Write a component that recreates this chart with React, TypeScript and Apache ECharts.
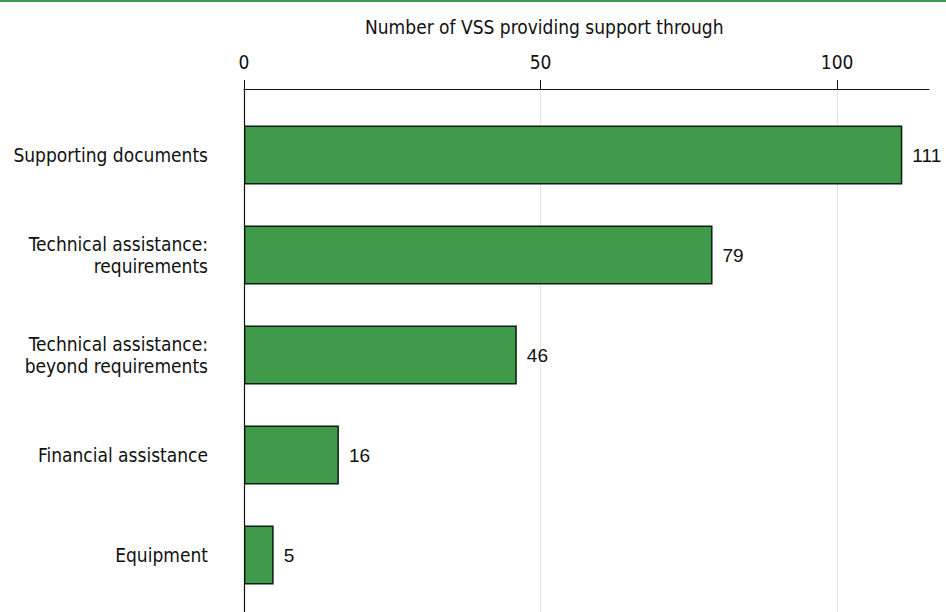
import React, { useEffect, useRef } from "react";
import * as echarts from "echarts";

const categories = [
  "Supporting documents",
  "Technical assistance:\nrequirements",
  "Technical assistance:\nbeyond requirements",
  "Financial assistance",
  "Equipment",
];
const values = [111, 79, 46, 16, 5];
const axisTitle = "Number of VSS providing support through";

const NARROW = '"Liberation Sans Narrow", "DejaVu Sans Condensed", sans-serif';
const REG = "Liberation Sans";

export default function App() {
  const ref = useRef<HTMLDivElement>(null);
  useEffect(() => {
    document.body.style.margin = "0";
    const chart = echarts.init(ref.current!, null, { renderer: "svg" });
    chart.setOption({
      animation: false,
      backgroundColor: "#ffffff",
      title: {
        text: axisTitle,
        left: 360,
        top: 12,
        textStyle: { fontFamily: NARROW, fontSize: 19, fontWeight: "normal", color: "#111" },
      },
      graphic: [
        { type: "rect", left: 0, top: 0, shape: { width: 946, height: 2 }, style: { fill: "#3f9a4a" } },
      ],
      grid: [
        { left: 244, right: 17, top: 105, height: 500 },
        { left: 244, right: 17, top: 89, bottom: 0 },
      ],
      xAxis: [
        {
          type: "value",
          gridIndex: 0,
          min: 0,
          max: 115.5,
          interval: 50,
          show: false,
          splitLine: { show: false },
        },
        {
          type: "value",
          gridIndex: 1,
          position: "top",
          min: 0,
          max: 115.5,
          interval: 50,
          axisLine: { show: true, onZero: false, lineStyle: { color: "#111", width: 1.2 } },
          axisTick: { show: true, inside: false, length: 9, lineStyle: { color: "#111" } },
          axisLabel: {
            margin: 18,
            showMaxLabel: false,
            fontFamily: NARROW,
            fontSize: 19,
            color: "#111",
          },
          splitLine: { show: true, showMinLine: false, showMaxLine: false, lineStyle: { color: "#e4e4e4", width: 1 } },
        },
      ],
      yAxis: [
        {
          type: "category",
          gridIndex: 0,
          inverse: true,
          data: categories,
          axisLine: { show: false },
          axisTick: { show: false },
          axisLabel: {
            margin: 36,
            align: "right",
            fontFamily: NARROW,
            fontSize: 19,
            lineHeight: 22,
            color: "#111",
          },
        },
        {
          type: "value",
          gridIndex: 1,
          min: 0,
          max: 1,
          axisLine: { show: true, onZero: false, lineStyle: { color: "#111", width: 1.2 } },
          axisTick: { show: false },
          axisLabel: { show: false },
          splitLine: { show: false },
        },
      ],
      series: [
        {
          type: "bar",
          xAxisIndex: 0,
          yAxisIndex: 0,
          data: values,
          barCategoryGap: "41%",
          itemStyle: { color: "#3f9a4a", borderColor: "#0c1d0e", borderWidth: 1.5 },
          label: {
            show: true,
            position: "right",
            distance: 10,
            fontFamily: REG,
            fontSize: 19,
            color: "#111",
          },
        },
      ],
    });
    return () => chart.dispose();
  }, []);
  return <div ref={ref} style={{ width: 946, height: 612 }} />;
}
